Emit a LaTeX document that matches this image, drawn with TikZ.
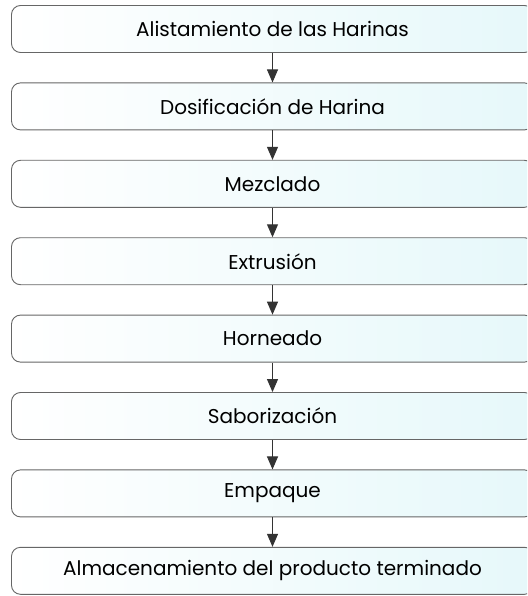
\documentclass[tikz,border=0pt]{standalone}
\usepackage{fontspec}
\setmainfont{Poppins}
\usetikzlibrary{arrows.meta}
\definecolor{boxline}{HTML}{666666}
\definecolor{boxfill}{HTML}{E6F8FA}
\tikzset{
  etapa/.style={draw=boxline, line width=0.9pt, rounded corners=9pt,
    left color=white, right color=boxfill, minimum width=522pt,
    minimum height=47pt, inner sep=0pt, font=\fontsize{20}{24}\selectfont},
  flecha/.style={-{Triangle[length=13pt,width=11pt]}, line width=1pt, draw=black!80}
}
\begin{document}
\begin{tikzpicture}[x=1pt,y=-1pt]
\useasboundingbox (0,0) rectangle (527,596);
\clip (0,0) rectangle (527,596);
% etapas del proceso
\node[etapa] (alist) at (272.5,29) {Alistamiento de las Harinas};
\node[etapa] (dosif) at (272.5,106.4) {Dosificación de Harina};
\node[etapa] (mezcl) at (272.5,183.8) {Mezclado};
\node[etapa] (extru) at (272.5,261.2) {Extrusión};
\node[etapa] (horne) at (272.5,338.6) {Horneado};
\node[etapa] (sabor) at (272.5,416) {Saborización};
\node[etapa] (empaq) at (272.5,493.4) {Empaque};
\node[etapa] (almac) at (272.5,570.8) {Almacenamiento del producto terminado};
% flechas
\draw[flecha] (alist) -- (dosif);
\draw[flecha] (dosif) -- (mezcl);
\draw[flecha] (mezcl) -- (extru);
\draw[flecha] (extru) -- (horne);
\draw[flecha] (horne) -- (sabor);
\draw[flecha] (sabor) -- (empaq);
\draw[flecha] (empaq) -- (almac);
\end{tikzpicture}
\end{document}
